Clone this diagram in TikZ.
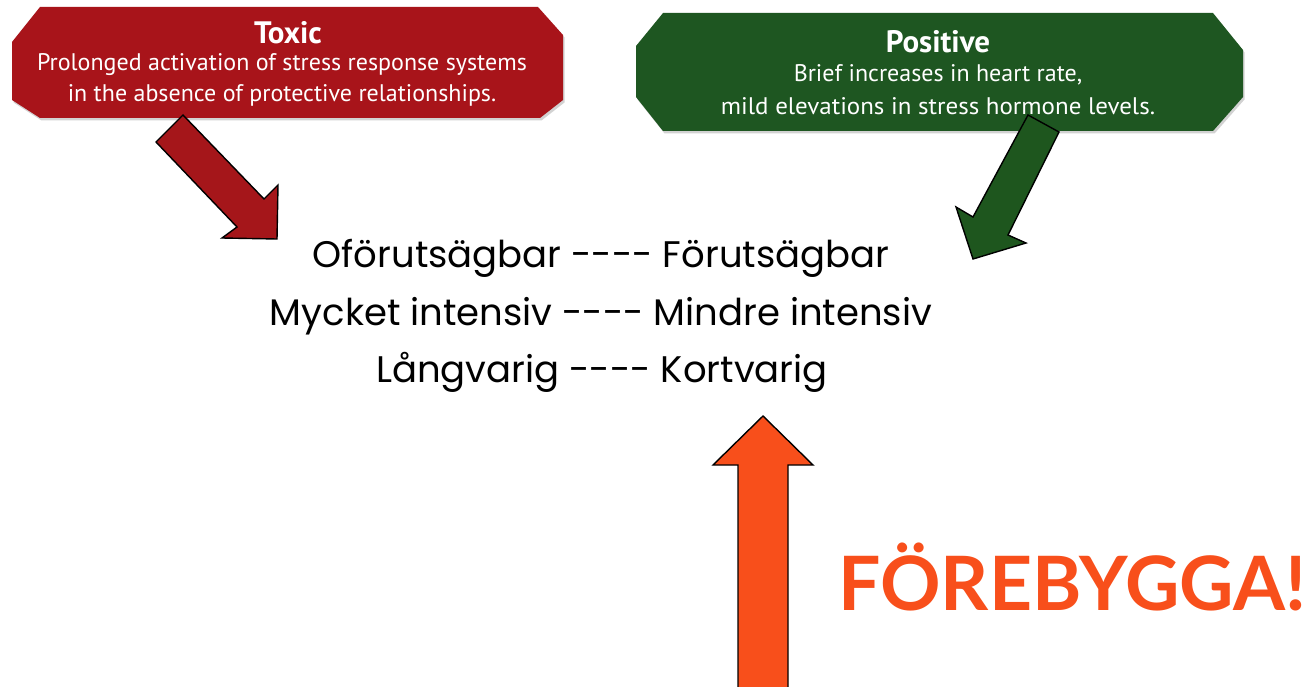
\documentclass[tikz,border=0pt]{standalone}
\usepackage{fontspec}
\setmainfont{Poppins}
\newfontfamily\boxfont{PT Sans}
\newfontfamily\centerfont{Poppins}
\newfontfamily\bigfont{Lato}
\usetikzlibrary{shadows}
\definecolor{toxred}{HTML}{A8141A}
\definecolor{posgreen}{HTML}{1E5621}
\definecolor{arrred}{HTML}{A5161A}
\definecolor{arrgreen}{HTML}{1E561E}
\definecolor{orng}{HTML}{F84F1B}
\tikzset{
  octbox/.style={draw=none, drop shadow={opacity=0.35, shadow xshift=1.5pt, shadow yshift=-2.5pt}},
  boxtitle/.style={text=white, font=\boxfont\bfseries\fontsize{31}{32}\selectfont, inner sep=0pt},
  boxline/.style={text=white, font=\boxfont\fontsize{24}{26}\selectfont, inner sep=0pt},
  blockarrow/.style={draw=black, line width=1.4pt, line join=miter},
  midtext/.style={font=\centerfont\fontsize{37}{40}\selectfont, anchor=base, inner sep=0pt},
  bigtext/.style={text=orng, font=\bigfont\bfseries\fontsize{75}{80}\selectfont, anchor=base west, inner sep=0pt}
}
\begin{document}
\begin{tikzpicture}[x=1pt,y=-1pt]
\useasboundingbox[fill=white] (0,0) rectangle (1305,687);
% boxes
\fill[toxred, octbox] (40,7) -- (538,7) -- (563,35) -- (563,100) -- (540,118) -- (40,118) -- (12,100) -- (12,42) -- cycle;
\fill[posgreen, octbox] (663,13) -- (1213,13) -- (1243,50) -- (1243,97) -- (1213,131) -- (663,131) -- (636,97) -- (636,46) -- cycle;
\node[boxtitle] (toxt) at (288,33) {Toxic};
\node[boxline] (tox1) at (282,65) {Prolonged activation of stress response systems};
\node[boxline] (tox2) at (282,95) {in the absence of protective relationships.};
\node[boxtitle] (post) at (938,42) {Positive};
\node[boxline] (pos1) at (938,75) {Brief increases in heart rate,};
\node[boxline, xscale=1.04] (pos2) at (938,106) {mild elevations in stress hormone levels.};
% block arrows
\filldraw[fill=arrred, blockarrow] (183,115) -- (264,199) -- (278,185) -- (277,239) -- (222,238) -- (237,227) -- (156,142) -- cycle;
\filldraw[fill=arrgreen, blockarrow] (1028,115) -- (1059,132) -- (1008,235) -- (1026,243) -- (973,259) -- (956,207) -- (973,217) -- cycle;
\filldraw[fill=orng, blockarrow] (763,416) -- (813,465) -- (788,465) -- (788,695) -- (738,695) -- (738,465) -- (713,465) -- cycle;
% centre text
\node[midtext] (l1) at (601,267) {Oförutsägbar ---- Förutsägbar};
\node[midtext] (l2) at (601,325) {Mycket intensiv ---- Mindre intensiv};
\node[midtext] (l3) at (602,382) {Långvarig ---- Kortvarig};
\node[bigtext] (fb) at (838,610) {FÖREBYGGA!};
\end{tikzpicture}
\end{document}
